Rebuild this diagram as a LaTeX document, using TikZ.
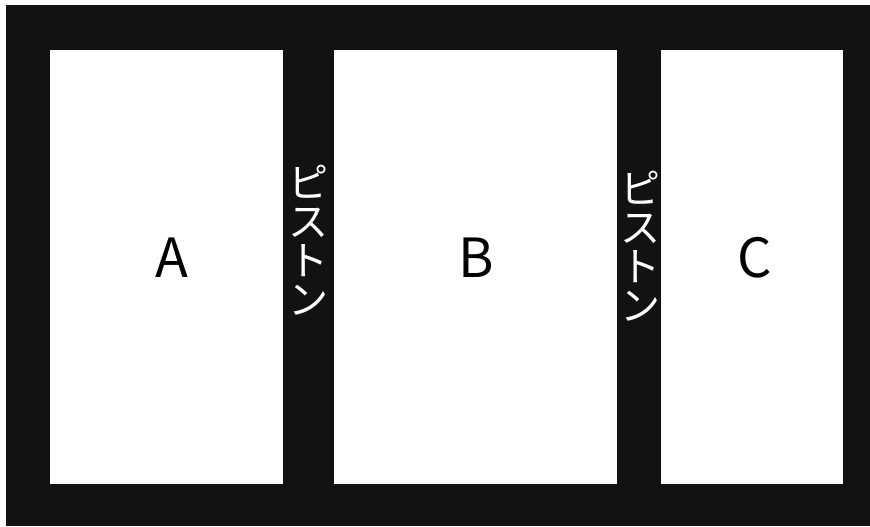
\documentclass[tikz,border=0pt]{standalone}
\usepackage{fontspec}
\setmainfont{Noto Sans CJK JP}
\usetikzlibrary{positioning}
\definecolor{framedark}{RGB}{18,18,18}

\begin{document}
\begin{tikzpicture}[x=0.5pt, y=-0.5pt,
    chamber/.style={fill=white},
    letter/.style={font=\fontsize{27}{30}\selectfont},
    piston/.style={text=white, align=center, inner sep=0pt,
                   font=\fontsize{20}{19.5}\selectfont}]
\useasboundingbox (0,0) rectangle (870,526);
\fill[framedark] (6,5) rectangle (870,526);

% three chambers, pistons are the dark gaps between them
\fill[chamber] (50,50)  rectangle (283,484);
\fill[chamber] (334,50) rectangle (617,484);
\fill[chamber] (661,50) rectangle (843,484);

\node (labA) [letter] at (172,258) {A};
\node (labB) [letter] at (476,258) {B};
\node (labC) [letter] at (755,258) {C};

\node (pistonL) [piston] at (308,240) {ピ\\ス\\ト\\ン};
\node (pistonR) [piston] at (640,246) {ピ\\ス\\ト\\ン};
\end{tikzpicture}
\end{document}
